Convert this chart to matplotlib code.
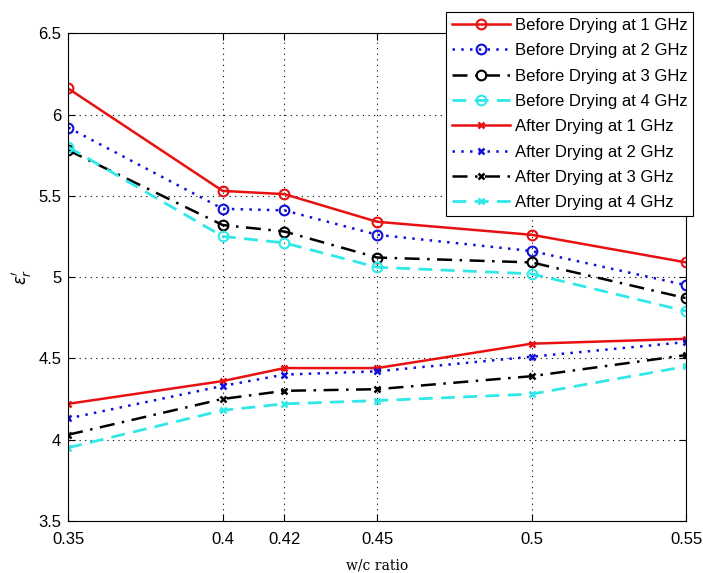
"""Relative permittivity vs w/c ratio, before and after drying."""

import matplotlib
matplotlib.use('Agg')
import matplotlib.pyplot as plt

wc_ratio = [0.35, 0.40, 0.42, 0.45, 0.50, 0.55]

before_1ghz = [6.16, 5.53, 5.51, 5.34, 5.26, 5.09]
before_2ghz = [5.92, 5.42, 5.41, 5.26, 5.16, 4.95]
before_3ghz = [5.78, 5.32, 5.28, 5.12, 5.09, 4.87]
before_4ghz = [5.80, 5.25, 5.21, 5.06, 5.02, 4.79]

after_1ghz = [4.22, 4.36, 4.44, 4.44, 4.59, 4.62]
after_2ghz = [4.13, 4.33, 4.40, 4.42, 4.51, 4.60]
after_3ghz = [4.03, 4.25, 4.30, 4.31, 4.39, 4.52]
after_4ghz = [3.95, 4.18, 4.22, 4.24, 4.28, 4.45]

x_ticks = [0.35, 0.4, 0.42, 0.45, 0.5, 0.55]
x_tick_labels = ['0.35', '0.4', '0.42', '0.45', '0.5', '0.55']
y_ticks = [3.5, 4, 4.5, 5, 5.5, 6, 6.5]
y_tick_labels = ['3.5', '4', '4.5', '5', '5.5', '6', '6.5']

plt.rcParams['font.family'] = ['Liberation Sans', 'DejaVu Sans']

fig = plt.figure(figsize=(7.03, 5.73), dpi=100)
ax = fig.add_axes([0.097, 0.091, 0.879, 0.851])

# MATLAB-like colours and line styles
styles = [
    ('-', '#e81010', 1.8),
    ((0, (1, 2.5)), '#1010d8', 1.8),
    ((0, (6, 3, 1, 3)), 'black', 1.8),
    ((0, (5, 3)), '#30e8e8', 2.0),
]
before = [before_1ghz, before_2ghz, before_3ghz, before_4ghz]
after = [after_1ghz, after_2ghz, after_3ghz, after_4ghz]
handles = []
for i, vals in enumerate(before):
    ls, col, lw = styles[i]
    h, = ax.plot(wc_ratio, vals, linestyle=ls, color=col, linewidth=lw,
                 marker='o', markersize=7, markerfacecolor='none',
                 markeredgewidth=1.5, label=f'Before Drying at {i + 1} GHz')
    handles.append(h)
for i, vals in enumerate(after):
    ls, col, lw = styles[i]
    h, = ax.plot(wc_ratio, vals, linestyle=ls, color=col, linewidth=lw,
                 marker='x', markersize=5, markeredgewidth=1.8,
                 label=f'After Drying at {i + 1} GHz')
    handles.append(h)

ax.set_xlim(0.35, 0.55)
ax.set_ylim(3.5, 6.5)
ax.set_xticks(x_ticks)
ax.set_xticklabels(x_tick_labels)
ax.set_yticks(y_ticks)
ax.set_yticklabels(y_tick_labels)
ax.tick_params(direction='in', labelsize=12, length=5, top=True, right=True,
               colors='black')
ax.tick_params(axis='x', pad=8)
ax.tick_params(axis='y', pad=5)
ax.grid(True, color='black', linestyle=(0, (1, 4)), linewidth=0.8)
for s in ax.spines.values():
    s.set_linewidth(0.8)

ax.set_xlabel('w/c ratio', family='DejaVu Serif', fontsize=10, labelpad=8)
ax.set_ylabel(r"$\epsilon_r'$", fontsize=12, labelpad=3)

leg = fig.legend(handles=handles, loc='upper left',
                 bbox_to_anchor=(0.634, 0.979), fontsize=12,
                 fancybox=False, framealpha=1, edgecolor='black',
                 handlelength=3.5, handletextpad=0.3, labelspacing=0.62,
                 borderpad=0.35, borderaxespad=0)
leg.get_frame().set_linewidth(0.8)

fig.savefig('out.png', dpi=100)
